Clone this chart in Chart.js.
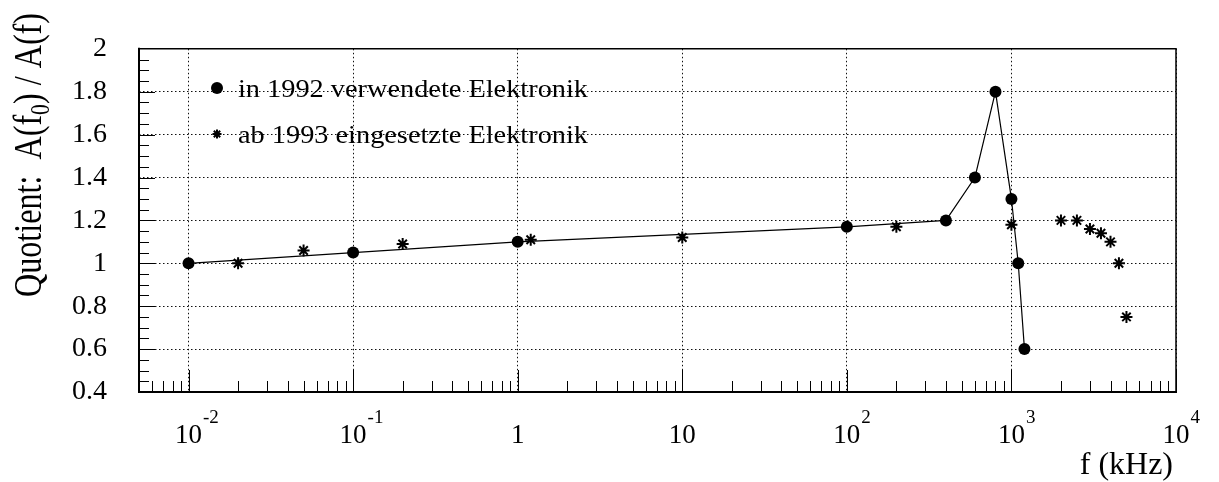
<!DOCTYPE html>
<html><head><meta charset="utf-8">
<script src="https://cdn.jsdelivr.net/npm/chart.js@4.4.0/dist/chart.umd.min.js"></script>
<style>html,body{margin:0;padding:0;background:#fff;}canvas{display:block;}</style>
</head><body>
<canvas id="c" width="1219" height="482"></canvas>
<script>
// ---- data ----
const f1992 = [0.01, 0.1, 1, 100, 400, 600, 800, 1000, 1100, 1200];
const q1992 = [1.00, 1.05, 1.10, 1.17, 1.20, 1.40, 1.80, 1.30, 1.00, 0.60];
const f1993 = [0.02, 0.05, 0.2, 1.2, 10, 200, 1000, 2000, 2500, 3000, 3500, 4000, 4500, 5000];
const q1993 = [1.00, 1.06, 1.09, 1.11, 1.12, 1.17, 1.18, 1.20, 1.20, 1.16, 1.14, 1.10, 1.00, 0.75];
const seriesLabels = ['in 1992 verwendete Elektronik', 'ab 1993 eingesetzte Elektronik'];
const yTickValues = [0.4, 0.6, 0.8, 1, 1.2, 1.4, 1.6, 1.8, 2];
const yTickLabels = ['0.4', '0.6', '0.8', '1', '1.2', '1.4', '1.6', '1.8', '2'];
const xTickValues = [0.01, 0.1, 1, 10, 100, 1000, 10000];
const xTickLabels = ['10^-2', '10^-1', '1', '10', '10^2', '10^3', '10^4'];
const xTitle = 'f (kHz)';
const yTitle = 'Quotient:  A(f_0) / A(f)';

const SERIF = '"Liberation Serif", "Times New Roman", serif';
const isDecade = v => Math.abs(Math.log10(v) - Math.round(Math.log10(v))) < 1e-6;

const decor = {
  id: 'decor',
  afterDraw(chart) {
    const ctx = chart.ctx, a = chart.chartArea, xs = chart.scales.x, ys = chart.scales.y;
    ctx.save();
    ctx.strokeStyle = '#000'; ctx.fillStyle = '#000'; ctx.setLineDash([]);
    ctx.lineWidth = 1;
    // y tick marks (inside)
    for (let i = 0; i < yTickValues.length - 1; i++) {
      const step = (yTickValues[i + 1] - yTickValues[i]) / 4;
      for (let k = 0; k < 4; k++) {
        const v = yTickValues[i] + k * step;
        const py = Math.round(ys.getPixelForValue(v)) + 0.5;
        const len = k === 0 ? 16 : 10;
        ctx.beginPath(); ctx.moveTo(a.left, py); ctx.lineTo(a.left + len, py); ctx.stroke();
      }
    }
    // x tick marks (inside)
    const xmin = xs.min, xmax = xs.max;
    for (let d = -3; d <= 4; d++) {
      for (let m = 1; m <= 9; m++) {
        const v = m * Math.pow(10, d);
        if (v < xmin * 0.999 || v > xmax * 1.001) continue;
        const px = Math.round(xs.getPixelForValue(v)) + 0.5;
        const len = m === 1 ? 22 : 11;
        ctx.beginPath(); ctx.moveTo(px, a.bottom); ctx.lineTo(px, a.bottom - len); ctx.stroke();
      }
    }
    // frame
    ctx.lineWidth = 1.5;
    ctx.beginPath(); ctx.moveTo(a.left, a.top); ctx.lineTo(a.right, a.top); ctx.lineTo(a.right, a.bottom); ctx.stroke();
    ctx.lineWidth = 2;
    ctx.beginPath(); ctx.moveTo(a.left, a.top - 1); ctx.lineTo(a.left, a.bottom); ctx.lineTo(a.right + 1, a.bottom); ctx.stroke();

    // x tick labels with superscripts
    ctx.textBaseline = 'alphabetic'; ctx.textAlign = 'left';
    xTickValues.forEach((v, i) => {
      const px = xs.getPixelForValue(v);
      const parts = xTickLabels[i].split('^');
      ctx.font = '27px ' + SERIF;
      const wb = ctx.measureText(parts[0]).width;
      const x0 = px - wb / 2;
      ctx.fillText(parts[0], x0, a.bottom + 51);
      if (parts[1]) {
        ctx.font = '19px ' + SERIF;
        ctx.fillText(parts[1], x0 + wb + 1, a.bottom + 31);
      }
    });
    // x title
    ctx.font = '32px ' + SERIF; ctx.textAlign = 'right';
    ctx.fillText(xTitle, a.right - 3, a.bottom + 82);

    // y title (rotated, right aligned to top, with subscript)
    const m = yTitle.match(/^(.*)_(.)(.*)$/);
    const pieces = [[m[1], 40, 0], [m[2], 27, 8], [m[3], 40, 0]];
    let W = 0;
    pieces.forEach(p => { ctx.font = p[1] + 'px ' + SERIF; p.push(ctx.measureText(p[0]).width); W += p[3]; });
    ctx.save();
    ctx.translate(41, 13);
    ctx.rotate(-Math.PI / 2);
    const sx = 284 / W;
    ctx.scale(sx, 1);
    ctx.textAlign = 'left';
    let cx = -W;
    pieces.forEach(p => { ctx.font = p[1] + 'px ' + SERIF; ctx.fillText(p[0], cx, p[2]); cx += p[3]; });
    ctx.restore();

    // legend inside plot
    const H = Chart.helpers;
    const legY = [88, 134];
    chart.data.datasets.forEach((ds, i) => {
      ctx.fillStyle = '#000'; ctx.strokeStyle = '#000';
      H.drawPoint(ctx, { pointStyle: ds.pointStyle, radius: i === 0 ? 6 : 4.5, borderWidth: i === 0 ? 0 : 1.6, rotation: 0 }, 217, legY[i]);
      ctx.font = '26px ' + SERIF;
      ctx.textAlign = 'left';
      const w = ctx.measureText(seriesLabels[0]).width;
      const s = 350 / w;
      ctx.save();
      ctx.translate(238, legY[i] + 9);
      ctx.scale(s, 1);
      ctx.fillText(ds.label, 0, 0);
      ctx.restore();
    });
    ctx.restore();
  }
};

new Chart(document.getElementById('c'), {
  type: 'scatter',
  data: {
    datasets: [
      {
        label: seriesLabels[0],
        data: f1992.map((x, i) => ({ x, y: q1992[i] })),
        showLine: true, borderColor: '#000', borderWidth: 1.2, tension: 0,
        pointStyle: 'circle', pointRadius: 6, pointBackgroundColor: '#000',
        pointBorderColor: '#000', pointBorderWidth: 0
      },
      {
        label: seriesLabels[1],
        data: f1993.map((x, i) => ({ x, y: q1993[i] })),
        showLine: false, pointStyle: 'star', pointRadius: 6,
        pointBorderColor: '#000', pointBackgroundColor: '#000', pointBorderWidth: 2
      }
    ]
  },
  options: {
    responsive: false, animation: false, devicePixelRatio: 1,
    layout: { padding: { top: 16, right: 43, left: 0, bottom: 0 } },
    plugins: { legend: { display: false }, tooltip: { enabled: false } },
    scales: {
      x: {
        type: 'logarithmic', position: 'bottom', min: 0.005, max: 10000,
        afterBuildTicks: s => { s.ticks = xTickValues.map(v => ({ value: v })); },
        afterFit: s => { s.height = 90; },
        ticks: { display: false, autoSkip: false },
        grid: { drawTicks: false, lineWidth: 1, color: c => (c.tick && isDecade(c.tick.value)) ? '#111' : 'transparent' },
        border: { display: false, dash: [1.5, 2.5] }
      },
      y: {
        type: 'linear', position: 'left', min: 0.4, max: 2,
        afterBuildTicks: s => { s.ticks = yTickValues.map(v => ({ value: v })); },
        afterFit: s => { s.width = 139; },
        ticks: {
          autoSkip: false, color: '#000', padding: 32,
          font: { family: SERIF, size: 28 },
          callback: (v, i) => yTickLabels[i]
        },
        grid: { drawTicks: false, lineWidth: 1, color: '#111' },
        border: { display: false, dash: [1.5, 2.5] }
      }
    }
  },
  plugins: [decor]
});
</script>
</body></html>
